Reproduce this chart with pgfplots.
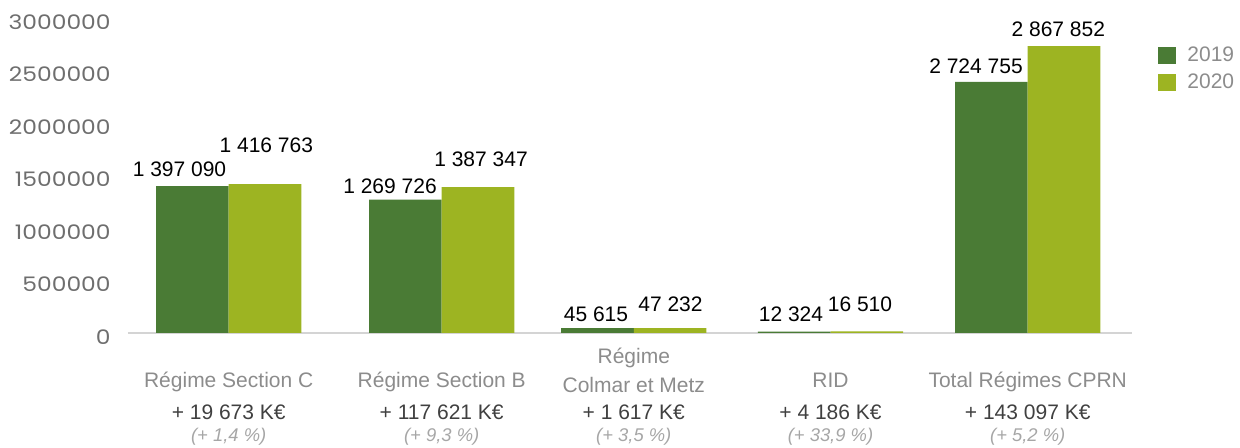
\documentclass[border=0pt]{standalone}
\usepackage{fontspec}
\setmainfont{Liberation Sans}
\newfontfamily\tickfont[FakeStretch=1.17]{Poppins}
\usepackage{pgfplots}
\pgfplotsset{compat=1.18}
\definecolor{cA}{HTML}{4A7B35}
\definecolor{cB}{HTML}{9DB422}
\definecolor{catgray}{HTML}{8C8C8C}
\definecolor{dgray}{HTML}{404040}
\definecolor{lgray}{HTML}{A6A6A6}
\definecolor{tickgray}{HTML}{6E6E6E}
\definecolor{axgray}{HTML}{D4D4D4}
\begin{document}
\begin{tikzpicture}
\begin{axis}[
 at={(0,0)}, anchor=south west,
 scale only axis, width=502pt, height=157.65pt,
 xmin=128, xmax=1132, ymin=0, ymax=3000000,
 enlargelimits=false,
 axis x line=bottom, axis y line=left,
 x axis line style={draw=axgray, line width=1pt, -},
 y axis line style={draw=none},
 major tick length=0pt,
 ytick={0,500000,1000000,1500000,2000000,2500000,3000000},
 scaled y ticks=false,
 yticklabel style={font=\tickfont\fontsize{10}{12}\selectfont, text=tickgray, inner sep=0pt, anchor=east, xshift=-8.5pt, yshift=-2pt,
   /pgf/number format/fixed, /pgf/number format/1000 sep={}, /pgf/number format/assume math mode=true},
 xtick={228.7,441.7,633.8,830.5,1027.7},
 xticklabels={
  {\textcolor{catgray}{Régime Section C}\\\textcolor{dgray}{+ 19 673 K€}\\[-4.75pt]\textcolor{lgray}{\itshape\fontsize{9.2}{11}\selectfont(+ 1,4 \%)}},
  {\textcolor{catgray}{Régime Section B}\\\textcolor{dgray}{+ 117 621 K€}\\[-4.75pt]\textcolor{lgray}{\itshape\fontsize{9.2}{11}\selectfont(+ 9,3 \%)}},
  {\textcolor{catgray}{Régime}\\[-1pt]\textcolor{catgray}{Colmar et Metz}\\[-2.5pt]\textcolor{dgray}{+ 1 617 K€}\\[-4.75pt]\textcolor{lgray}{\itshape\fontsize{9.2}{11}\selectfont(+ 3,5 \%)}},
  {\textcolor{catgray}{RID}\\\textcolor{dgray}{+ 4 186 K€}\\[-4.75pt]\textcolor{lgray}{\itshape\fontsize{9.2}{11}\selectfont(+ 33,9 \%)}},
  {\textcolor{catgray}{Total Régimes CPRN}\\\textcolor{dgray}{+ 143 097 K€}\\[-4.75pt]\textcolor{lgray}{\itshape\fontsize{9.2}{11}\selectfont(+ 5,2 \%)}}
 },
 xticklabel style={align=center, anchor=south, inner sep=0pt, yshift=-56.25pt, font=\fontsize{10.5}{15.75}\selectfont},
 legend style={at={(rel axis cs:1.0259,0.9215)}, anchor=north west, draw=none, fill=none,
   font=\fontsize{10.5}{12}\selectfont, text=catgray, row sep=0.5pt, inner sep=0pt,
   nodes={inner xsep=5.5pt}},
 legend image code/.code={\fill[#1] (0pt,-4.25pt) rectangle (9pt,4.25pt);},
]
\addplot[ybar, bar width=72.6, bar shift=0pt, fill=cA, draw=none] coordinates {
 (192.4,1397090) (405.4,1269726) (597.5,45615) (794.2,12324) (991.4,2390000)};
\addlegendentry{2019}
\addplot[ybar, bar width=72.6, bar shift=0pt, fill=cB, draw=none] coordinates {
 (265.0,1416763) (478.0,1387347) (670.1,47232) (866.8,16510) (1064.0,2730000)};
\addlegendentry{2020}
\addplot[draw=none, mark=none, forget plot, nodes near coords, point meta=explicit symbolic,
  every node near coord/.append style={anchor=center, inner sep=0pt, font=\fontsize{10.5}{12}\selectfont, text=black}]
 coordinates {
 (179.5,1560420) [1 397 090]
 (266.3,1788773) [1 416 763]
 (390.0,1398668) [1 269 726]
 (481.0,1650809) [1 387 347]
 (596.0,180780) [45 615]
 (670.5,271170) [47 232]
 (791.0,176023) [12 324]
 (860.0,271170) [16 510]
 (976.0,2535680) [2 724 755]
 (1058.3,2885823) [2 867 852]
 };
\end{axis}
\pgfresetboundingbox
\path[use as bounding box] (-64pt,-57.5pt) rectangle (556pt,166.5pt);
\end{tikzpicture}
\end{document}
